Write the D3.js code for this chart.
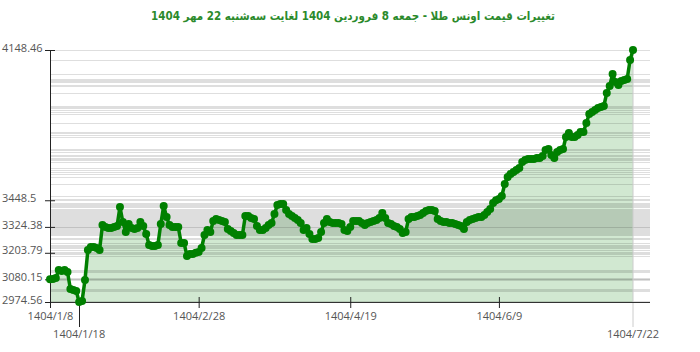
<!DOCTYPE html>
<html>
<head>
<meta charset="utf-8">
<script src="https://cdn.jsdelivr.net/npm/d3@7"></script>
<style>
	body { margin: 0; background: #fff; }
</style>
</head>
<body>
<div class="gold"></div>
<script>
// Paramètres de la visualisation
const width = 700;
const height = 352;
const margin = { top: 50, right: 50, bottom: 50, left: 50 };
const plotRight = 633; // dernier point

// Données
const title = 'تغییرات قیمت اونس طلا - جمعه  8 فروردین 1404 لغایت سه‌شنبه  22 مهر 1404';

// un prix par jour, du 1404/1/8 au 1404/7/22
const prices = [
	3080.15, 3081.7, 3086.4, 3123.7, 3119.0, 3123.7, 3114.3, 3035.2, 3030.4, 3025.8,
	2974.56, 2979.3, 3077.1, 3216.8, 3230.8, 3230.8, 3226.1, 3216.8, 3333.3, 3324.38,
	3319.3, 3319.3, 3324.0, 3328.6, 3417.1, 3347.2, 3300.6, 3337.9, 3319.3, 3314.6,
	3319.3, 3347.2, 3328.6, 3291.3, 3240.1, 3235.4, 3235.4, 3240.1, 3337.9, 3421.8,
	3370.5, 3333.3, 3324.0, 3324.0, 3324.0, 3249.4, 3249.4, 3188.8, 3198.1, 3198.1,
	3203.79, 3207.5, 3226.1, 3286.7, 3310.0, 3300.6, 3351.9, 3361.2, 3356.5, 3351.9,
	3347.2, 3314.6, 3305.3, 3296.0, 3286.7, 3286.7, 3286.7, 3375.2, 3375.2, 3365.9,
	3361.2, 3328.6, 3310.0, 3310.0, 3319.3, 3333.3, 3342.6, 3384.5, 3426.4, 3431.1,
	3431.1, 3403.1, 3384.5, 3375.2, 3365.9, 3356.5, 3342.6, 3310.0, 3319.3, 3291.3,
	3268.1, 3268.1, 3272.7, 3300.6, 3342.6, 3361.2, 3347.2, 3342.6, 3342.6, 3342.6,
	3337.9, 3310.0, 3305.3, 3324.0, 3351.9, 3351.9, 3351.9, 3342.6, 3333.3, 3342.6,
	3347.2, 3351.9, 3356.5, 3365.9, 3389.2, 3365.9, 3342.6, 3337.9, 3328.6, 3324.0,
	3314.6, 3296.0, 3300.6, 3361.2, 3370.5, 3370.5, 3375.2, 3379.8, 3389.2, 3398.5,
	3403.1, 3403.1, 3398.5, 3361.2, 3351.9, 3347.2, 3347.2, 3342.6, 3342.6, 3337.9,
	3333.3, 3328.6, 3314.6, 3347.2, 3356.5, 3361.2, 3365.9, 3370.5, 3370.5, 3379.8,
	3393.8, 3407.8, 3435.7, 3448.5, 3454.4, 3468.4, 3524.3, 3556.9, 3571.0, 3580.3,
	3589.6, 3598.9, 3626.9, 3636.2, 3640.8, 3640.8, 3640.8, 3645.5, 3645.5, 3654.8,
	3682.7, 3687.4, 3659.4, 3645.5, 3673.4, 3682.7, 3687.4, 3743.2, 3761.8, 3743.2,
	3743.2, 3752.5, 3766.5, 3766.5, 3808.5, 3850.4, 3859.7, 3869.0, 3878.3, 3883.0,
	3887.6, 3948.2, 3980.8, 4036.7, 3999.4, 3985.4, 4004.1, 4008.7, 4013.4, 4101.9,
	4148.46
];

// graduations de l'axe des dates (index du jour) et leurs libellés
const dateTicks = [0, 51, 103, 154];
const dateLabels = ['1404/1/8', '1404/2/28', '1404/4/19', '1404/6/9'];
const minDateLabel = '1404/1/18';
const maxDateLabel = '1404/7/22';

// graduations de l'axe des prix
const priceTicks = [2974.56, 3080.15, 3203.79, 3324.38, 3448.5, 4148.46];

const font = '"Open Sans", sans-serif';

const svg = d3.select('.gold')
	.append('svg')
	.attr('width', width)
	.attr('height', height)
	.style('display', 'block');

// Echelles
const x = d3.scaleLinear()
	.domain([0, prices.length - 1])
	.range([margin.left, plotRight]);

const y = d3.scaleLinear()
	.domain([d3.min(prices), d3.max(prices)])
	.range([height - margin.bottom, margin.top]);

const minIndex = d3.minIndex(prices);
const maxIndex = d3.maxIndex(prices);

// Titre
svg.append('text')
	.attr('x', 353)
	.attr('y', 20)
	.attr('text-anchor', 'middle')
	.attr('direction', 'rtl')
	.style('font', 'bold 11.5px "DejaVu Sans Condensed", "DejaVu Sans", sans-serif')
	.style('fill', '#2b8a2b')
	.text(title);

// Surface sous la courbe
svg.append('path')
	.datum(prices)
	.attr('fill', 'rgb(0,128,0)')
	.attr('fill-opacity', 0.18)
	.attr('d', d3.area()
		.x((d, i) => x(i))
		.y0(y(d3.min(prices)))
		.y1(d => y(d)));

// Lignes horizontales: une par valeur distincte
svg.append('g')
	.selectAll('line')
	.data(Array.from(new Set(prices)))
	.join('line')
		.attr('x1', margin.left)
		.attr('x2', width - margin.right)
		.attr('y1', d => Math.round(y(d)) + 0.5)
		.attr('y2', d => Math.round(y(d)) + 0.5)
		.attr('stroke', '#000')
		.attr('stroke-opacity', 0.13);

// Repère du maximum (ligne grise verticale)
svg.append('line')
	.attr('x1', x(maxIndex))
	.attr('x2', x(maxIndex))
	.attr('y1', y(prices[maxIndex]))
	.attr('y2', height - 25)
	.attr('stroke', '#ccc');

// Axe vertical
svg.append('g')
	.attr('transform', `translate(${margin.left}, 0)`)
	.call(d3.axisLeft(y).tickValues(priceTicks).tickFormat(d => d).tickSize(5).tickSizeOuter(0))
	.call(g => g.select('.domain').attr('stroke', '#222'))
	.call(g => g.selectAll('.tick line').attr('x1', 5).attr('stroke', '#222'))
	.call(g => g.selectAll('.tick text')
		.attr('x', 2 - margin.left)
		.attr('dy', '0.1em')
		.attr('text-anchor', 'start')
		.style('font', `11px ${font}`)
		.style('fill', '#555'));

// Axe horizontal
svg.append('line')
	.attr('x1', margin.left)
	.attr('x2', width - margin.right)
	.attr('y1', height - margin.bottom + 0.5)
	.attr('y2', height - margin.bottom + 0.5)
	.attr('stroke', '#333');

svg.append('g')
	.attr('transform', `translate(0, ${height - margin.bottom})`)
	.call(d3.axisBottom(x).tickValues(dateTicks).tickFormat((d, i) => dateLabels[i]).tickSize(6))
	.call(g => g.select('.domain').remove())
	.call(g => g.selectAll('.tick line').attr('y1', -5).attr('stroke', '#222'))
	.call(g => g.selectAll('.tick text')
		.attr('y', 10)
		.style('font', `11px ${font}`)
		.style('fill', '#555'));

// Repère du minimum
svg.append('line')
	.attr('x1', Math.round(x(minIndex)) + 0.5)
	.attr('x2', Math.round(x(minIndex)) + 0.5)
	.attr('y1', height - margin.bottom)
	.attr('y2', height - 25)
	.attr('stroke', '#222');

// Dates du minimum et du maximum (deuxième rangée)
svg.append('g')
	.selectAll('text')
	.data([[minIndex, minDateLabel], [maxIndex, maxDateLabel]])
	.join('text')
		.attr('x', d => x(d[0]))
		.attr('y', height - 14)
		.attr('text-anchor', 'middle')
		.style('font', `11px ${font}`)
		.style('fill', '#555')
		.text(d => d[1]);

// Courbe
svg.append('path')
	.datum(prices)
	.attr('fill', 'none')
	.attr('stroke', '#008000')
	.attr('stroke-width', 3.5)
	.attr('stroke-linejoin', 'round')
	.attr('d', d3.line()
		.x((d, i) => x(i))
		.y(d => y(d)));

// Points
svg.append('g')
	.selectAll('circle')
	.data(prices)
	.join('circle')
		.attr('cx', (d, i) => x(i))
		.attr('cy', d => y(d))
		.attr('r', 4)
		.attr('fill', '#008000');
</script>
</body>
</html>
